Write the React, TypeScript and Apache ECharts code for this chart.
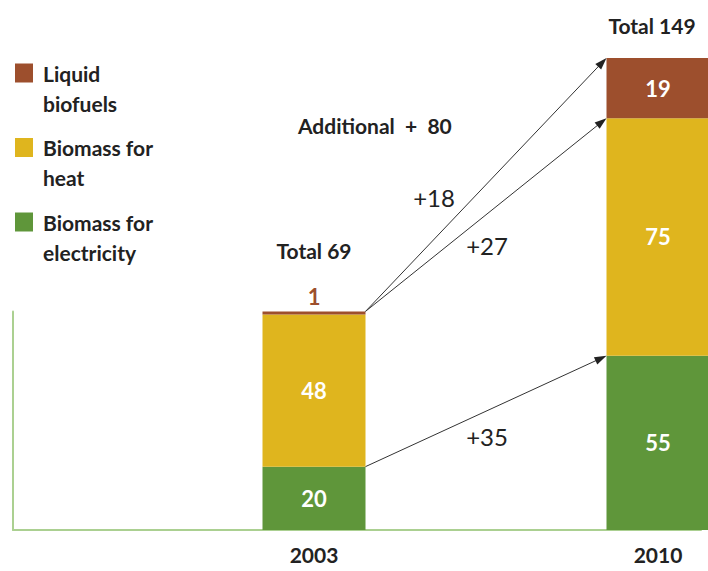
import React, { useEffect, useRef } from "react";
import * as echarts from "echarts";

// ---- data ----
const categories = ["", "", "", "2003", "", "", "", "2010"];
const yearIndex = [3, 7];
const electricity = [20, 55];
const heat = [48, 75];
const liquid = [1, 19];
const totals = [69, 149];
const additionalTotal = 80;
const seriesNames = ["Biomass for electricity", "Biomass for heat", "Liquid biofuels"];
const legendOrder = ["Liquid biofuels", "Biomass for heat", "Biomass for electricity"];
const legendLines: Record<string, string[]> = {
  "Liquid biofuels": ["Liquid", "biofuels"],
  "Biomass for heat": ["Biomass for", "heat"],
  "Biomass for electricity": ["Biomass for", "electricity"],
};
// arrows from the 2003 bar to the 2010 bar
const arrowFrom = [69, 69, 20];
const arrowTo = [149, 130, 55];
const arrowDelta = [18, 27, 35];

// ---- styles ----
const COLORS = { liquid: "#9d4f2d", heat: "#dfb51e", elec: "#5f963a", axis: "#abd091", text: "#222222" };
const FONT = "Lato";
const BAR_WIDTH = 103;
const TOTAL_LABEL_DISTANCE = [50, 22];
const TOTAL_LABEL_OFFSET = [[0, 0], [-6, 0]];
const DELTA_LABEL_OFFSET = [[-52, 13], [1, 31], [1, 25]];

function spread(vals: any[]) {
  const arr: any[] = categories.map(() => null);
  yearIndex.forEach((ix, i) => (arr[ix] = vals[i]));
  return arr;
}

export default function App() {
  const ref = useRef<HTMLDivElement>(null);
  useEffect(() => {
    const chart = echarts.init(ref.current!, null, { renderer: "svg" });
    const insideLabel = {
      show: true,
      position: "inside",
      color: "#ffffff",
      fontFamily: FONT,
      fontWeight: "bold",
      fontSize: 22,
    };
    const liquidData = spread(
      liquid.map((v, i) =>
        i === 0
          ? { value: v, label: { position: "top", color: COLORS.liquid, distance: 4 } }
          : { value: v }
      )
    );
    const totalData = spread(
      totals.map((t, i) => ({
        value: 0,
        label: { distance: TOTAL_LABEL_DISTANCE[i], offset: TOTAL_LABEL_OFFSET[i] },
      }))
    );
    const option: any = {
      animation: false,
      grid: { left: 13, right: 7, bottom: 41, top: 311.4 },
      legend: {
        data: legendOrder,
        orient: "vertical",
        left: 15,
        top: 28,
        padding: 0,
        itemWidth: 18,
        itemHeight: 19,
        itemGap: -15.5,
        icon: "rect",
        selectedMode: false,
        // a leading blank line keeps the first line level with the swatch
        formatter: (name: string) => "\n" + (legendLines[name] || [name]).join("\n"),
        textStyle: {
          fontFamily: FONT,
          fontWeight: "bold",
          fontSize: 21,
          lineHeight: 30,
          color: COLORS.text,
          padding: [0, 0, 0, 5],
        },
      },
      xAxis: {
        type: "category",
        data: categories,
        axisLine: { lineStyle: { color: COLORS.axis, width: 2 } },
        axisTick: { show: false },
        axisLabel: {
          margin: 14,
          fontFamily: FONT,
          fontWeight: "bold",
          fontSize: 21,
          color: COLORS.text,
          interval: 0,
        },
      },
      yAxis: {
        type: "value",
        min: 0,
        max: totals[0],
        axisLine: { show: true, lineStyle: { color: COLORS.axis, width: 2 } },
        axisTick: { show: false },
        axisLabel: { show: false },
        splitLine: { show: false },
      },
      graphic: [
        {
          type: "text",
          left: 298,
          top: 115,
          style: {
            text: "Additional  +  " + additionalTotal,
            fontFamily: FONT,
            fontWeight: "bold",
            fontSize: 21,
            fill: COLORS.text,
          },
        },
      ],
      series: [
        {
          name: seriesNames[0],
          type: "bar",
          stack: "a",
          barWidth: BAR_WIDTH,
          clip: false,
          itemStyle: { color: COLORS.elec },
          label: insideLabel,
          data: spread(electricity),
        },
        {
          name: seriesNames[1],
          type: "bar",
          stack: "a",
          barWidth: BAR_WIDTH,
          clip: false,
          itemStyle: { color: COLORS.heat },
          label: insideLabel,
          data: spread(heat),
        },
        {
          name: seriesNames[2],
          type: "bar",
          stack: "a",
          barWidth: BAR_WIDTH,
          clip: false,
          itemStyle: { color: COLORS.liquid },
          label: insideLabel,
          data: liquidData,
        },
        {
          name: "Total",
          type: "bar",
          stack: "a",
          barWidth: BAR_WIDTH,
          clip: false,
          itemStyle: { color: "transparent" },
          label: {
            show: true,
            position: "top",
            fontFamily: FONT,
            fontWeight: "bold",
            fontSize: 21,
            color: COLORS.text,
            formatter: (p: any) => "Total " + totals[yearIndex.indexOf(p.dataIndex)],
          },
          data: totalData,
        },
        {
          name: "arrows",
          type: "custom",
          silent: true,
          clip: false,
          z: 5,
          encode: { x: [0, 2], y: [1, 3] },
          data: arrowFrom.map((f, i) => [yearIndex[0], f, yearIndex[1], arrowTo[i], arrowDelta[i]]),
          renderItem: (params: any, api: any) => {
            const a = api.coord([api.value(0), api.value(1)]);
            const b = api.coord([api.value(2), api.value(3)]);
            const x1 = a[0] + BAR_WIDTH / 2;
            const y1 = a[1];
            const x2 = b[0] - BAR_WIDTH / 2;
            const y2 = b[1];
            const dx = x2 - x1;
            const dy = y2 - y1;
            const len = Math.sqrt(dx * dx + dy * dy);
            const ux = dx / len;
            const uy = dy / len;
            const L = 12;
            const W = 4;
            const bx = x2 - ux * L;
            const by = y2 - uy * L;
            const off = DELTA_LABEL_OFFSET[params.dataIndex];
            return {
              type: "group",
              children: [
                {
                  type: "line",
                  shape: { x1, y1, x2: bx + ux * 2, y2: by + uy * 2 },
                  style: { stroke: "#333333", lineWidth: 1 },
                },
                {
                  type: "polygon",
                  shape: {
                    points: [
                      [x2, y2],
                      [bx - uy * W, by + ux * W],
                      [bx + uy * W, by - ux * W],
                    ],
                  },
                  style: { fill: "#222222" },
                },
                {
                  type: "text",
                  x: (x1 + x2) / 2 + off[0],
                  y: (y1 + y2) / 2 + off[1],
                  style: {
                    text: "+" + api.value(4),
                    align: "center",
                    verticalAlign: "middle",
                    fontFamily: FONT,
                    fontSize: 24,
                    fill: COLORS.text,
                  },
                },
              ],
            };
          },
        },
      ],
    };
    chart.setOption(option);
    return () => chart.dispose();
  }, []);
  return (
    <div
      ref={ref}
      style={{ position: "fixed", left: 0, top: 0, width: 708, height: 571, background: "#ffffff" }}
    />
  );
}
